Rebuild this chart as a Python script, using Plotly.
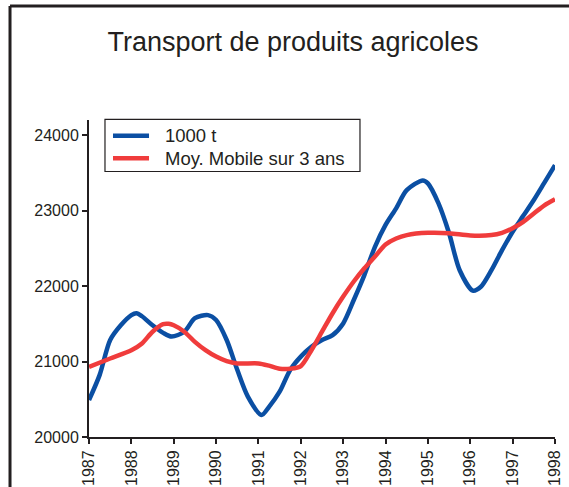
import plotly.graph_objects as go

# quarterly positions (years)
years = [1987.0, 1987.25, 1987.5, 1987.75, 1988.0, 1988.12, 1988.25, 1988.5, 1988.75, 1988.95,
         1989.25, 1989.5, 1989.81, 1990.0, 1990.25, 1990.5, 1990.75, 1991.07, 1991.25, 1991.5,
         1991.75, 1992.0, 1992.25, 1992.5, 1992.75, 1993.0, 1993.25, 1993.5, 1993.75, 1994.0,
         1994.25, 1994.5, 1994.88, 1995.0, 1995.25, 1995.5, 1995.75, 1996.06, 1996.25, 1996.5,
         1996.75, 1997.0, 1997.25, 1997.5, 1997.75, 1998.0]
tonnes = [20490, 20820, 21285, 21480, 21615, 21640, 21600, 21480, 21380, 21330,
          21395, 21575, 21615, 21550, 21285, 20890, 20535, 20290, 20400, 20600,
          20890, 21065, 21195, 21285, 21350, 21505, 21815, 22145, 22520, 22810,
          23030, 23270, 23400, 23360, 23095, 22700, 22210, 21940, 21990, 22210,
          22475, 22720, 22930, 23140, 23370, 23600]

ma_years = [1987.0, 1987.5, 1988.0, 1988.25, 1988.5, 1988.75, 1988.88, 1989.0, 1989.25, 1989.5,
            1989.75, 1990.0, 1990.25, 1990.5, 1991.0, 1991.25, 1991.5, 1991.75, 1992.0, 1992.25,
            1992.5, 1992.75, 1993.0, 1993.25, 1993.5, 1993.75, 1994.0, 1994.25, 1994.5, 1995.0,
            1995.5, 1996.0, 1996.5, 1996.75, 1997.0, 1997.25, 1997.5, 1997.75, 1998.0]
moving_avg = [20930, 21040, 21150, 21240, 21395, 21495, 21500, 21480, 21395, 21260,
              21150, 21065, 21005, 20975, 20975, 20945, 20905, 20905, 20940, 21150,
              21395, 21640, 21860, 22060, 22235, 22390, 22550, 22630, 22675, 22705,
              22700, 22670, 22675, 22705, 22765, 22850, 22960, 23070, 23150]

series_names = ['1000 t', 'Moy. Mobile sur 3 ans']
series_colors = ['#0b4fa3', '#f03c3c']

year_ticks = list(range(1987, 1999))
y_ticks = [20000, 21000, 22000, 23000, 24000]

ink = '#231f20'

fig = go.Figure()
fig.add_trace(go.Scatter(x=years, y=tonnes, mode='lines', name=series_names[0],
                         line=dict(color=series_colors[0], width=4.5, shape='spline', smoothing=0.8)))
fig.add_trace(go.Scatter(x=ma_years, y=moving_avg, mode='lines', name=series_names[1],
                         line=dict(color=series_colors[1], width=4.5, shape='spline', smoothing=0.8)))

# outer frame (only top and left edges are visible)
fig.add_shape(type='line', xref='paper', yref='paper', x0=-0.1695, x1=1.1, y0=1.3596, y1=1.3596,
              line=dict(color=ink, width=3))
fig.add_shape(type='line', xref='paper', yref='paper', x0=-0.1695, x1=-0.1695, y0=1.3596, y1=-0.3,
              line=dict(color=ink, width=3))

# legend drawn by hand so its compact row spacing matches
fig.add_shape(type='rect', xref='paper', yref='paper', x0=0.0343, x1=0.5815, y0=0.8375, y1=1.0022,
              line=dict(color=ink, width=1.2), fillcolor='white', layer='above')
for row_y, name, color in zip([0.9505, 0.8792], series_names, series_colors):
    fig.add_shape(type='line', xref='paper', yref='paper', x0=0.0515, x1=0.1288, y0=row_y, y1=row_y,
                  line=dict(color=color, width=4.5), layer='above')
    fig.add_annotation(text=name, xref='paper', yref='paper', x=0.1588, y=row_y,
                       xanchor='left', yanchor='middle', showarrow=False,
                       font=dict(size=18.5, color=ink))

axis_common = dict(showgrid=False, zeroline=False, showline=True, linecolor=ink, linewidth=2,
                   ticklen=5, tickwidth=2, tickcolor=ink, automargin=False)

fig.update_layout(
    width=569, height=487,
    margin=dict(l=89, r=14, t=120, b=50),
    paper_bgcolor='white', plot_bgcolor='white',
    font=dict(family='Liberation Sans, Arial', color=ink, size=16),
    title=dict(text='Transport de produits agricoles', x=0.515, xref='container', y=0.915,
               yanchor='middle', xanchor='center', font=dict(size=27, color=ink)),
    showlegend=False,
    xaxis=dict(range=[1987, 1998], tickvals=year_ticks, ticktext=[str(y) for y in year_ticks],
               tickangle=-90, ticks='outside', **axis_common),
    yaxis=dict(range=[20000, 24200], tickvals=y_ticks, ticktext=[str(v) for v in y_ticks],
               ticks='outside', **axis_common),
    # overlay axes to draw the inner half of the crossing tick marks
    xaxis2=dict(range=[1987, 1998], tickvals=year_ticks, overlaying='x', side='bottom',
                anchor='y', showticklabels=False, ticks='inside', **axis_common),
    yaxis2=dict(range=[20000, 24200], tickvals=y_ticks, overlaying='y', side='left',
                anchor='x', showticklabels=False, ticks='inside', **axis_common),
)

# page body has a default 8px margin; remove it so the figure sits at the window corner
fig.write_html("out.html", config={'displayModeBar': False},
               post_script="document.body.style.margin='0';")
